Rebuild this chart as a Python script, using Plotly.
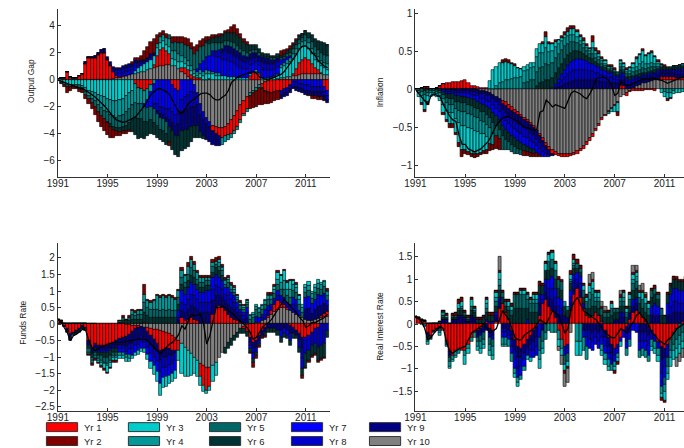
import plotly.graph_objects as go

# ---------------- time axis (quarterly, 1991Q1 .. 2012Q4) ----------------
quarters = [1991 + 0.25 * i for i in range(88)]
year_ticks = [1991, 1995, 1999, 2003, 2007, 2011]

series_names = ["Yr 1", "Yr 2", "Yr 3", "Yr 4", "Yr 5", "Yr 6", "Yr 7", "Yr 8", "Yr 9", "Yr 10"]
series_colors = ["#FF0000", "#800000", "#00CCCC", "#009999", "#006666",
                 "#003333", "#0000FF", "#0000CC", "#000080", "#808080"]

# ---------------- Output Gap ----------------
og_yr1 = [0,0.05,0.1,0.55, 0.15,0.05,0.1,0.25, 0.4,1.2,1.6,1.6, 1.65,1.85,2.0,2.0, 1.5,1.0,0.5,0.2,
          0.05,0.05,0,0, 0,-0.3,-0.6,-0.7, -0.8,-0.7,-0.4,0.2, 0.8,1.2,1.3,1.0, 0.8,-0.4,-0.7,-0.8,
          0.3,0.5,0.5,0.3, 0.2,0.1,0.1,0, 0,0.05,-0.4,-0.5, -0.6,-0.7,-0.7,-0.8, -1.0,-1.1,-1.2,-1.1,
          -0.9,-0.9,0.3,0.5, 0.6,0.4,-0.3,-0.6, -0.8,-0.9,-0.9,-0.8, -0.8,-0.7,-0.6,-0.4, 0.2,0.5,0.9,1.1,
          1.2,1.1,0.8,0.5, 0.3,0.1,-0.5,-0.8]
og_yr2 = [-0.05,-0.05,-0.1,-0.45, -0.25,-0.15,-0.15,-0.25, -0.25,-0.3,-0.4,-0.5, -0.6,-0.7,-0.8,-0.9,
          -0.9,-0.8,-0.6,-0.4, -0.3,-0.2,-0.2,-0.2, 0.1,0.15,0.2,0.3, 0.6,0.75,0.9,1.0, 0.65,0.3,0.25,0.3,
          -0.3,0.45,0.4,0.5, 0.5,0.5,0.5,0.45, 0.5,0.5,0.5,0.5, 0.3,0.25,0.2,0.1, 0.2,0.1,0.1,0.2,
          0.4,0.6,0.5,0.3, 0.2,0.2,-1.0,-1.1, -1.2,-1.3,-1.2,-0.9, -0.8,-0.75,-0.7,-0.7, 0.3,0.3,0.2,0.25,
          0.15,0.1,0.05,0, 0,-0.1,-0.2,-0.2, -0.2,-0.2,-0.1,0]
og_yr3 = [-0.05,-0.15,-0.25,-0.35, -0.35,-0.35,-0.35,-0.4, -0.45,-0.6,-0.8,-0.9, -1.0,-1.1,-1.2,-1.3,
          -1.4,-1.5,-1.6,-1.6, -1.5,-1.4,-1.2,-1.0, -0.8,0.2,0.35,0.45, 0.55,0.6,0.7,0.7, 0.6,0.5,0.5,0.5,
          0.5,0.5,0.5,0.5, 0.4,0.3,0.3,0.3, 0.2,0.2,0.3,0.3, 0.4,0.4,0.4,0.3, 0.3,0.3,0.3,0.2,
          0.2,0.2,0.1,0.1, 0.1,0.1,0.1,0.1, 0.1,0.1,0.1,0.1, 0.1,0.1,0.2,0.3, 0.8,0.9,1.0,1.1,
          1.1,1.1,1.0,0.9, 0.9,0.8,0.7,0.6, 0.6,0.5,0.5,0.4]
og_yr4 = [0.05,0.05,0.05,0.05, 0.05,0.05,0.05,0.05, -0.15,-0.3,-0.4,-0.5, -0.6,-0.8,-0.9,-1.0,
          -1.0,-1.1,-1.1,-1.2, -1.2,-1.2,-1.2,-1.2, -1.1,-1.4,-1.2,-1.1, -1.0,-0.8,-0.5,-0.3, 0.3,0.5,0.5,0.5,
          0.6,0.6,0.6,0.6, 0.5,0.4,0.4,0.4, 0.3,0.3,0.3,0.3, 0.3,0.2,0.2,0.2, 0.2,-0.5,-0.4,-0.4,
          -0.3,-0.2,-0.2,-0.2, -0.2,-0.2,-0.2,-0.2, -0.2,-0.2,-0.1,-0.1, -0.1,0.1,0.1,0.1, 0.2,0.2,0.3,0.35,
          0.4,0.4,0.4,0.4, 0.4,0.4,0.4,0.4, 0.4,0.4,0.4,0.4]
og_yr5 = [0,-0.1,-0.15,-0.2, -0.2,-0.2,-0.2,-0.25, -0.15,-0.2,-0.2,-0.3, -0.4,-0.5,-0.6,-0.6,
          -0.7,-0.7,-0.8,-0.8, -0.9,-0.9,-1.0,-1.0, -1.1,-1.1,-1.1,-1.1, -1.1,-1.0,-1.0,-1.0, -0.9,-0.9,-0.9,-0.9,
          0.3,0.6,0.7,0.8, 0.9,1.0,1.1,1.2, 1.2,1.3,1.2,1.1, 1.0,0.9,0.6,0.6, 0.5,0.4,0.4,0.4,
          0.4,0.4,0.4,0.3, 0.3,0.3,0.2,0.2, 0.2,0.2,0.1,0.1, 0.1,0.1,0.1,0.1, 0.1,0.15,0.2,0.25,
          0.3,0.3,0.3,0.3, 0.4,0.4,0.5,0.5, 0.5,0.6,0.6,0.6]
og_yr6 = [0,0,0,0, 0,0,0,0, 0,0,0,0, 0,0,0,0, -0.1,-0.2,-0.2,-0.2,
          -0.3,-0.3,-0.4,-0.5, -0.9,-1.3,-1.5,-1.4, -1.3,-1.1,-1.0,-0.9, -0.9,-0.8,-0.8,-0.8,
          -1.1,-1.4,-1.4,-1.5, -1.5,-1.4,-1.3,-1.1, -0.9,-0.9,-0.4,-0.2, 0.2,0.3,0.4,0.5, 0.5,0.6,0.6,0.6,
          0.7,0.8,0.8,0.8, 0.7,0.6,0.5,0.4, 0.4,0.3,0.2,0.2, 0.2,0.2,0.2,0.2, 0.2,0.2,0.2,0.25,
          0.3,0.3,0.3,0.3, 0.3,0.4,0.5,0.6, 0.7,0.8,0.85,0.85]
og_yr7 = [0,0,0,0, 0,0,0,0, 0,0,0,0, 0,0,0,0, 0,0,0,0.1,
          0.2,0.25,0.3,0.3, 0.3,0.3,0.2,0.15, -0.2,-0.6,-1.1,-1.5, -1.8,-2.0,-2.1,-2.2,
          -2.2,-2.0,-1.9,-1.7, -1.5,-1.3,-1.1,-0.9, -0.6,0.2,0.5,0.8, 1.0,1.1,1.2,1.2, 1.2,1.2,1.2,1.2,
          1.1,1.0,0.9,0.8, 0.7,0.7,0.7,0.6, 0.6,0.6,0.6,0.6, 0.6,0.5,0.5,0.5, 0.4,0.3,0.2,0.1,
          -0.2,-0.2,-0.3,-0.3, -0.4,-0.4,-0.5,-0.5, -0.5,-0.5,-0.4,-0.4]
og_yr8 = [0,0,0,0, 0,0,0,0, 0,0,0,0, 0,0,0,0, 0,0.1,0.2,0.3,
          0.3,0.3,0.3,0.3, 0.3,0.3,0.2,0.15, 0.2,0.2,0.2,-0.4, -0.5,-0.5,-0.5,-0.6,
          -0.8,-0.8,-0.8,-0.8, -0.9,-1.0,-1.1,-1.1, -1.0,-0.9,-0.8,-0.6, -0.5,-0.4,0.3,0.4, 0.5,0.5,0.6,0.6,
          0.6,0.6,0.6,0.6, 0.5,0.5,0.4,0.4, 0.3,0.3,0.6,0.5, 0.5,0.5,0.4,0.4, -0.3,-0.3,-0.3,-0.3,
          -0.3,-0.3,-0.3,-0.4, -0.4,-0.4,-0.4,-0.4, -0.4,-0.4,-0.3,-0.3]
og_yr9 = [0,0,0,0, 0,0,0,0, 0.05,0.1,0.1,0.1, 0.15,0.15,0.2,0.3, 0.2,0.2,0.2,0.2,
          0.2,0.2,0.2,0.2, 0.2,0.2,0.15,0.15, 0.15,0.15,0.2,0.2, -0.2,-0.3,-0.3,-0.3,
          -0.5,-0.6,-0.8,-0.9, -1.4,-1.4,-1.5,-1.5, -1.4,-1.5,-1.3,-1.2, -1.2,-1.1,-1.0,-0.9, -0.7,0.3,0.4,0.5,
          0.5,0.5,0.5,0.5, 0.5,0.4,0.4,0.4, 0.4,0.4,0.4,0.4, 0.4,0.3,0.3,0.25, -0.3,-0.3,-0.3,-0.3,
          -0.2,-0.3,-0.3,-0.3, -0.3,-0.3,-0.3,-0.3, -0.4,-0.4,-0.3,-0.2]
og_yr10 = [0,0,0,0, 0,0,0,0, 0,0,0,0, 0,0,0,0, 0,0,0.05,0.1,
           0.15,0.2,0.3,0.35, 0.4,0.45,0.5,0.55, 0.6,0.7,0.8,0.9, 0.95,1.0,1.05,1.1,
           1.1,1.05,1.0,0.8, 0.6,0.4,0.2,0.05, -0.4,-1.0,-1.8,-2.4, -2.8,-3.1,-3.4,-3.5, -3.6,-3.6,-3.5,-3.3,
           -3.0,-2.7,-2.3,-1.9, -1.6,-1.3,-1.0,-0.8, -0.6,-0.4,-0.3,-0.2, -0.1,-0.05,0,0.05, 0.1,0.15,0.2,0.2,
           0.25,0.3,0.35,0.4, 0.4,0.4,0.4,0.4, 0.4,0.4,0.35,0.35]
og_total = [0,-0.1,-0.2,-0.3, -0.4,-0.5,-0.55,-0.6, -0.66,-0.8,-0.95,-1.1, -1.28,-1.5,-1.7,-1.95,
            -2.2,-2.5,-2.8,-3.0, -3.1,-3.15,-3.1,-3.0, -2.9,-2.75,-2.5,-2.2, -1.9,-1.5,-1.1,-0.9,
            -0.7,-0.65,-0.75,-0.9, -1.1,-1.5,-2.0,-2.4, -2.5,-2.2,-1.8,-1.6, -1.4,-1.2,-1.05,-1.0,
            -1.0,-1.1,-1.35,-1.5, -1.5,-1.3,-1.15,-0.8, -0.2,0.0,0.2,0.3, 0.4,0.5,0.55,0.6,
            0.5,0.2,0.1,0.05, 0.05,0.1,0.2,0.3, 0.4,0.6,0.9,1.2, 1.55,1.9,2.3,2.5, 2.5,2.3,2.0,1.8,
            1.4,1.2,1.0,0.9]

# ---------------- Inflation ----------------
inf_yr1 = [0,0.01,0.02,0.03, 0.03,0.01,0,0.02, 0.04,0.07,0.08,0.09, 0.1,0.1,0.1,0.11, 0.12,0.08,0.05,0.04,
           0.03,0.02,0.02,0.02, 0.01,0,0,0, -0.04,-0.05,-0.05,-0.05, -0.04,-0.04,-0.03,-0.03,
           -0.02,-0.02,-0.02,-0.02, -0.03,-0.03,-0.04,-0.04, -0.05,-0.04,-0.03,-0.04, -0.03,-0.03,-0.03,-0.03,
           -0.03,-0.03,-0.04,-0.04, -0.04,-0.04,-0.03,-0.03, -0.02,-0.02,-0.02,-0.02, -0.02,-0.02,0.06,0.05,
           -0.03,-0.01,-0.02,-0.02, -0.02,-0.02,-0.01,-0.01, -0.01,-0.02,0.02,0.03, 0.03,0.03,0.03,0.03,
           0.02,0.02,0.02,0.02]
inf_yr2 = [0,0,-0.02,-0.03, -0.03,0,0,0, 0,-0.02,-0.03,-0.05, -0.05,-0.03,-0.05,-0.08, -0.05,-0.04,-0.04,-0.05,
           -0.04,-0.03,-0.04,-0.04, -0.1,-0.07,-0.17,-0.15, 0.03,0.04,0.03,0.02, 0.02,0,0,-0.06,
           -0.05,-0.05,-0.04,-0.05, -0.02,0.02,0.06,0.03, 0.02,0.03,0,0.02, 0.03,0.04,0.04,0.04,
           0.03,0.03,0.03,0.03, 0.02,0.08,0.04,0.04, 0.02,0.01,0.03,0.02, 0.03,-0.05,0.02,0.02,
           0.02,0.02,0.01,0.02, 0.02,0.02,0.01,0.02, 0.02,0.02,0.02,0.02, 0.02,-0.02,-0.02,0,
           0,0,0.01,0.01]
inf_yr3 = [0,-0.05,-0.1,-0.12, -0.08,-0.05,-0.03,-0.04, -0.06,-0.1,-0.12,-0.14, -0.14,-0.18,-0.26,-0.32,
           -0.32,-0.32,-0.32,-0.31, -0.28,-0.25,-0.22,-0.18, 0.1,0.25,0.25,0.27, 0.25,0.24,0.22,0.19,
           0.16,0.13,0.11,0.06, 0.06,0.07,0.06,0.1, 0.12,0.12,0.15,0.1, 0.08,0.06,0.05,0.04,
           0.05,0.06,0.07,0.08, 0.06,0.05,0.04,0.03, 0.03,0.08,0.05,0.04, 0.03,0.03,0.02,-0.04,
           -0.08,-0.12,0.04,0.04, 0.03,0.04,0.06,0.1, 0.12,0.15,0.11,0.12, 0.13,0.08,0.03,-0.05,
           -0.07,-0.08,-0.07,-0.04, -0.04,-0.04,-0.03,-0.03]
inf_yr4 = [0,-0.03,-0.05,-0.08, -0.05,-0.03,-0.03,-0.03, -0.04,-0.08,-0.1,-0.11, -0.11,-0.13,-0.16,-0.18,
           -0.18,-0.18,-0.18,-0.18, -0.18,-0.17,-0.17,-0.16, -0.2,-0.15,0.05,0.08, 0.1,0.12,0.13,0.14,
           0.15,0.15,0.16,0.16, 0.16,0.16,0.16,0.2, 0.2,0.18,0.2,0.17, 0.16,0.15,0.13,0.12,
           0.1,0.1,0.1,0.09, 0.08,0.06,0.05,0.04, 0.04,0.07,0.05,0.04, 0.03,0.03,-0.02,0.03,
           0.02,0.02,0.04,0.03, 0.03,0.04,0.05,0.06, 0.07,0.08,0.06,0.06, 0.06,0.05,0.03,0.02,
           -0.03,-0.05,-0.04,-0.02, 0.01,0.01,0.02,0.02]
inf_yr5 = [0,-0.02,-0.03,-0.05, -0.03,-0.02,-0.02,-0.02, -0.03,-0.06,-0.07,-0.08, -0.08,-0.1,-0.11,-0.12,
           -0.12,-0.12,-0.12,-0.12, -0.12,-0.12,-0.12,-0.12, -0.14,-0.14,-0.13,-0.12, -0.19,-0.14,-0.11,-0.09,
           -0.09,-0.07,-0.07,0.08, 0.1,0.12,0.13,0.18, 0.2,0.2,0.22,0.2, 0.2,0.2,0.19,0.18,
           0.17,0.15,0.14,0.12, 0.11,0.09,0.08,0.06, 0.05,0.07,0.05,0.04, 0.04,0.03,0.03,0.03,
           0.02,0.02,0.04,0.03, 0.03,0.04,0.05,0.05, 0.06,0.06,0.05,0.05, 0.05,0.04,0.03,0.02,
           0.02,0.02,0.02,0.02, 0.02,0.02,0.02,0.02]
inf_yr6 = [0,0,0,-0.02, -0.01,0,0,-0.01, -0.02,-0.04,-0.05,-0.06, -0.06,-0.07,-0.08,-0.08,
           -0.08,-0.09,-0.09,-0.1, -0.1,-0.1,-0.1,-0.11, -0.12,-0.13,-0.13,-0.13, -0.13,-0.13,-0.12,-0.12,
           -0.11,-0.1,-0.09,-0.08, -0.07,-0.05,-0.04,0.05, 0.08,0.1,0.12,0.12, 0.13,0.14,0.14,0.14,
           0.14,0.13,0.12,0.11, 0.1,0.09,0.08,0.07, 0.06,0.06,0.05,0.05, 0.04,0.04,0.03,0.03,
           0.03,0.02,0.04,0.03, 0.03,0.03,0.03,0.03, 0.03,0.03,0.03,0.03, 0.03,0.03,0.03,0.02,
           0.02,0.02,0.02,0.02, 0.02,0.02,0.02,0.02]
inf_yr7 = [0,0,0,0, 0,0,0,0, 0,-0.02,-0.03,-0.03, -0.03,-0.04,-0.04,-0.05, -0.05,-0.05,-0.06,-0.06,
           -0.07,-0.07,-0.08,-0.08, -0.09,-0.1,-0.1,-0.11, -0.11,-0.12,-0.12,-0.12, -0.12,-0.12,-0.12,-0.11,
           -0.11,-0.1,-0.1,-0.09, -0.08,-0.06,-0.03,-0.02, 0.02,0.04,0.06,0.08, 0.1,0.12,0.13,0.14,
           0.14,0.14,0.13,0.12, 0.11,0.1,0.09,0.08, 0.07,0.06,0.05,0.05, 0.04,0.04,0.03,0.03,
           0.03,0.03,0.03,0.02, 0.02,0.02,0.02,0.02, 0.02,0.02,0.02,0.02, 0.02,0.02,0.02,0.02,
           0.02,0.03,0.03,0.03]
inf_yr8 = [0,0,0,0, 0,0,0,0, 0,-0.01,-0.02,-0.02, -0.02,-0.03,-0.03,-0.03, -0.03,-0.04,-0.04,-0.05,
           -0.05,-0.06,-0.06,-0.07, -0.07,-0.08,-0.08,-0.09, -0.1,-0.1,-0.1,-0.11, -0.11,-0.11,-0.11,-0.11,
           -0.11,-0.11,-0.1,-0.09, -0.08,-0.07,-0.05,-0.03, -0.01,0.02,0.05,0.07, 0.09,0.11,0.13,0.14,
           0.14,0.14,0.14,0.13, 0.12,0.12,0.11,0.1, 0.09,0.08,0.07,0.07, 0.06,0.05,0.05,0.05,
           0.05,0.04,0.04,0.04, 0.04,0.04,0.03,0.03, 0.03,0.03,0.03,0.03, 0.03,0.03,0.03,0.04,
           0.04,0.04,0.04,0.04]
inf_yr9 = [0,0,0,0, 0,0,0,0, 0,0,-0.01,-0.01, -0.01,-0.02,-0.02,-0.02, -0.02,-0.02,-0.03,-0.03,
           -0.03,-0.04,-0.04,-0.05, -0.05,-0.06,-0.07,-0.08, -0.08,-0.09,-0.1,-0.1, -0.1,-0.11,-0.11,-0.11,
           -0.11,-0.11,-0.1,-0.1, -0.09,-0.08,-0.06,-0.04, -0.02,0.01,0.03,0.05, 0.07,0.09,0.1,0.11,
           0.12,0.12,0.12,0.12, 0.12,0.12,0.11,0.11, 0.1,0.1,0.09,0.09, 0.08,0.08,0.07,0.07,
           0.06,0.06,0.06,0.06, 0.05,0.05,0.05,0.05, 0.05,0.05,0.05,0.05, 0.05,0.05,0.05,0.05,
           0.05,0.05,0.05,0.05]
inf_yr10 = [0,0,0,0, 0,0,0,0, 0,0,0,0, 0,0,0,0, 0,0,0,0,
            -0.01,-0.02,-0.02,-0.03, -0.04,-0.07,-0.1,-0.12, -0.15,-0.17,-0.2,-0.23, -0.27,-0.3,-0.33,-0.37,
            -0.4,-0.44,-0.48,-0.53, -0.58,-0.64,-0.7,-0.75, -0.79,-0.82,-0.84,-0.85, -0.85,-0.85,-0.84,-0.83,
            -0.81,-0.78,-0.74,-0.69, -0.64,-0.58,-0.52,-0.45, -0.38,-0.33,-0.28,-0.24, -0.2,-0.16,-0.1,-0.07,
            -0.05,-0.02,0.02,0.04, 0.06,0.08,0.09,0.1, 0.11,0.12,0.12,0.13, 0.13,0.13,0.13,0.13,
            0.13,0.13,0.13,0.13]
inf_total = [0,-0.05,-0.1,-0.15, -0.2,-0.08,-0.06,-0.08, -0.1,-0.2,-0.28,-0.35, -0.4,-0.42,-0.6,-0.72,
             -0.72,-0.78,-0.8,-0.82, -0.8,-0.78,-0.74,-0.7, -0.64,-0.55,-0.47,-0.42, -0.38,-0.36,-0.36,-0.38,
             -0.4,-0.42,-0.46,-0.5, -0.5,-0.52,-0.54,-0.52, -0.3,-0.28,-0.14,-0.18, -0.23,-0.2,-0.22,-0.24,
             -0.25,-0.15,-0.05,-0.02, -0.04,-0.06,-0.1,-0.12, -0.06,0.02,0.14,0.15, 0.16,0.15,0.12,0.05,
             -0.08,-0.05,0.1,0.08, 0.05,0.06,0.08,0.1, 0.12,0.14,0.14,0.13, 0.14,0.14,0.13,0.12,
             0.1,0.08,0.1,0.12, 0.14,0.15,0.16,0.16]

# ---------------- Funds Rate ----------------
fr_yr1 = [0.1,0.05,-0.05,-0.15, -0.3,-0.25,-0.2,-0.15, -0.05,-0.1,-0.5,-0.75, -0.6,-0.65,-0.65,-0.65,
          -0.65,-0.6,-0.55,-0.5, -0.45,-0.4,-0.35,-0.3, -0.2,-0.1,-0.05,0, 0.05,-0.1,-0.2,-0.3,
          -0.4,-0.6,-0.55,-0.5, -0.45,-0.45,-0.4,-0.3, 0.2,0.1,0.15,0.2, 0.15,0.1,-0.4,-0.6,
          -0.7,-0.6,0.3,0.5, 0.55,0.5,0.4,0.3, 0.2,0.15,0.1,0.05, -0.05,-0.2,-0.4,-0.55,
          -0.5,-0.35,-0.2,-0.1, 0.05,0.1,0.2,0.25, 0.15,0.1,0.05,-0.05, -0.1,-0.2,-0.3,-0.4,
          -0.4,-0.35,-0.25,-0.15, -0.1,0.05,0.1,0.15]
fr_yr2 = [0,0,0,-0.01, -0.02,0,0,0, 0,0,-0.02,-0.05, -0.05,-0.05,-0.05,-0.05, -0.05,-0.05,-0.05,-0.05,
          0,0.05,0,0.05, 0.05,0.05,0.05,0.05, 0.3,0.05,0.05,0.05, 0.05,0.05,0.05,0.05,
          0.05,0.05,0.05,0.05, 0.1,0.05,0.1,0.1, 0.1,0.05,0.05,0.05, 0.05,0.05,0.1,0.1,
          0.1,0.05,0.05,0.05, 0.05,0.05,0.05,0.05, 0.05,0.05,-0.05,-0.15, -0.1,-0.05,-0.05,-0.05,
          0.05,0.05,0.05,0.05, 0.05,0.05,0.05,0.05, 0.05,0.05,0.05,-0.1, -0.05,-0.05,-0.05,-0.05,
          -0.05,-0.05,-0.05,0.05]
fr_yr3 = [0,0,0,0, 0,0,0,0, 0,0,-0.05,-0.05, -0.05,-0.05,-0.1,-0.15, -0.2,-0.15,-0.1,-0.1,
          -0.1,-0.1,-0.1,-0.1, -0.1,-0.1,-0.1,-0.1, -0.1,-0.15,-0.2,-0.25, -0.3,-0.35,-0.3,-0.3,
          -0.25,-0.25,-0.25,-0.3, -0.9,-0.9,-0.8,-0.65, -0.5,-0.5,-0.25,-0.2, -0.1,-0.1,-0.5,-0.4,
          0.1,0.05,0.05,0.05, 0.05,0.05,0.05,0.05, 0.05,0.05,0.05,0.05, 0.05,0.05,0.05,0.05,
          0.05,0.05,0.1,0.2, 0.2,0.3,0.2,0.25, 0.1,0.1,0.1,0.1, 0.1,0.1,0.05,0.1,
          0.1,0.05,0.05,0.05]
fr_yr4 = [0,0,0,0, 0,0,0,0, 0,0,-0.03,-0.05, -0.05,-0.05,-0.05,-0.05, -0.05,-0.05,-0.05,-0.05,
          -0.1,-0.1,-0.1,-0.1, 0.1,0.1,0.1,0.1, 0.25,0.2,0.2,0.25, 0.4,0.4,0.4,0.4,
          0.4,0.4,0.35,0.2, 0.2,0.2,0.25,0.25, 0.2,0.2,0.15,0.15, 0.1,0.1,0.1,0.1,
          0.1,0.1,0.1,0.1, 0.1,0.1,0.05,0.05, 0.05,0.05,0.1,0.1, 0.1,0.1,0.1,0.1,
          0.1,0.1,0.1,0.15, 0.2,0.25,0.2,0.25, 0.2,0.15,0.15,0.15, 0.15,0.15,0.15,0.15,
          0.15,0.15,0.15,0.1]
fr_yr5 = [0.02,0.02,-0.02,-0.02, -0.03,-0.02,-0.02,-0.02, -0.02,-0.02,-0.1,-0.1, -0.1,-0.1,-0.15,-0.15,
          -0.2,-0.15,-0.1,-0.1, 0.05,0.1,0.05,0.1, 0.15,0.1,0.15,0.15, 0.3,0.25,0.25,0.25,
          0.25,0.2,0.25,0.2, 0.25,0.2,0.2,0.2, 0.2,0.15,0.2,0.25, 0.2,0.15,0.15,0.15,
          0.15,0.15,0.2,0.1, 0.15,0.15,0.1,0.15, 0.1,0.1,0.1,0.1, 0.1,0.1,0.15,0.2,
          0.2,0.15,0.15,0.15, 0.2,0.15,0.15,0.2, 0.2,0.25,0.2,0.2, 0.2,0.2,0.2,0.15,
          0.15,0.2,0.15,0.2, 0.2,0.2,0.2,0.15]
fr_yr6 = [0.03,0.03,0,-0.02, -0.05,-0.03,-0.03,-0.03, -0.03,-0.03,-0.1,-0.1, -0.1,-0.1,-0.1,-0.15,
          -0.15,-0.15,-0.1,-0.1, 0.05,0.1,0.1,0.1, 0.15,0.15,0.15,0.15, 0.3,0.25,0.2,0.2,
          0.2,0.2,0.2,0.2, 0.2,0.2,0.2,0.2, 0.2,0.2,0.2,0.2, 0.2,0.15,0.15,0.15,
          0.15,0.15,0.15,0.2, 0.2,0.15,-0.2,-0.2, -0.2,-0.15,-0.15,-0.15, -0.15,-0.15,-0.1,-0.1,
          -0.1,-0.05,-0.05,-0.1, -0.1,-0.1,-0.1,-0.15, -0.15,-0.1,-0.1,-0.15, -0.15,-0.1,-0.15,-0.2,
          -0.4,-0.3,-0.3,-0.3, -0.4,-0.4,-0.4,-0.2]
fr_yr7 = [0,0,0,0, 0,0,0,0, 0,0,0,0, 0,-0.05,-0.05,-0.05, -0.05,-0.05,-0.05,-0.05,
          -0.1,-0.1,-0.1,-0.15, -0.2,-0.2,-0.2,-0.2, -0.2,-0.2,-0.25,-0.25, -0.3,-0.35,-0.3,-0.3,
          -0.3,-0.3,-0.3,0.2, 0.35,0.3,0.35,0.35, 0.35,0.3,0.3,0.3, 0.35,0.35,0.35,0.35,
          0.3,0.25,0.2,0.25, 0.2,0.2,0.15,0.1, 0.1,0.15,-0.1,-0.15, 0.2,0.15,0.1,0.15,
          0.15,0.1,0.1,0.15, -0.2,-0.15,-0.15,-0.2, 0.2,0.2,0.15,-0.3, 0.35,0.35,0.3,0.3,
          0.35,0.3,0.3,0.15]
fr_yr8 = [0,0,0,0, 0,0,0,0, 0,0,-0.05,-0.05, -0.05,-0.05,-0.05,-0.05, -0.05,-0.05,-0.05,-0.05,
          -0.1,-0.1,-0.15,-0.15, -0.15,-0.15,-0.15,-0.15, -0.15,-0.2,-0.25,-0.25, -0.3,-0.35,-0.3,-0.3,
          -0.3,-0.25,-0.2,0.1, 0.25,0.25,0.3,0.35, 0.35,0.3,0.3,0.3, 0.3,0.3,0.35,0.3,
          0.25,0.25,0.2,0.25, 0.25,0.2,0.15,0.1, 0.1,0.15,-0.1,-0.15, -0.15,-0.1,0.1,0.15,
          0.15,0.1,0.1,0.15, 0.2,0.2,0.15,0.2, 0.25,0.25,-0.2,-0.3, -0.5,-0.45,-0.4,-0.45,
          -0.6,-0.65,-0.6,-0.2]
fr_yr9 = [0,0,-0.02,-0.05, -0.1,-0.05,-0.05,-0.05, -0.05,-0.05,-0.1,-0.1, -0.1,-0.1,-0.1,-0.1,
          -0.1,-0.1,-0.1,-0.15, -0.2,-0.25,-0.3,-0.3, -0.35,-0.35,-0.35,-0.3, -0.3,-0.3,-0.3,-0.3,
          -0.25,-0.3,-0.25,-0.25, -0.2,-0.15,-0.1,0.1, 0.2,0.25,0.3,0.35, 0.35,0.35,0.35,0.35,
          0.35,0.35,0.4,0.35, 0.3,0.3,0.3,0.3, 0.3,0.3,0.25,0.2, 0.15,0.2,-0.15,-0.2,
          -0.2,-0.15,-0.15,-0.15, -0.15,-0.15,-0.15,-0.2, -0.2,-0.15,-0.2,-0.25, -0.2,-0.15,-0.2,-0.35,
          0.3,0.35,0.2,0.3, 0.35,0.3,0.3,0.2]
fr_yr10 = [0,0,0,0, 0,0,0,0, 0,0,0,0, 0,0,0,0, 0,0,0,0,
           0,0,-0.02,-0.03, -0.04,-0.05,-0.06,-0.08, -0.1,-0.12,-0.14,-0.16, -0.18,-0.2,-0.22,-0.25,
           -0.3,-0.35,-0.4,-0.5, -0.6,-0.7,-0.8,-0.9, -1.0,-1.1,-1.2,-1.25, -1.3,-1.3,-1.25,-1.15,
           -1.0,-0.85,-0.7,-0.55, -0.45,-0.35,-0.25,-0.15, -0.08,-0.03,0,0, 0.03,0.06,0.1,0.15,
           0.2,0.3,0.38,0.45, 0.5,0.5,0.45,0.4, 0.35,0.3,0.25,0.2, 0.15,0.12,0.12,0.15,
           0.18,0.2,0.22,0.22]
fr_total = [0.15,0.05,-0.1,-0.25, -0.5,-0.35,-0.3,-0.22, -0.15,-0.2,-0.5,-0.7, -0.8,-0.75,-0.7,-0.65,
            -0.6,-0.58,-0.55,-0.55, -0.55,-0.55,-0.52,-0.5, -0.5,-0.48,-0.46,-0.45, -0.45,-0.5,-0.6,-0.7,
            -0.8,-0.9,-0.8,-0.7, -0.6,-0.55,-0.45,-0.3, -0.05,-0.15,0.1,0.3, 0.25,0.28,0.3,0.0,
            -0.6,-0.35,0.1,0.5, 0.5,0.55,0.5,0.4, 0.35,0.25,0.15,0.08, 0.0,-0.1,-0.25,-0.45,
            -0.4,-0.25,-0.1,0.0, 0.05,0.15,0.3,0.45, 0.6,0.75,0.65,0.55, 0.45,0.35,0.2,0.1,
            -0.1,-0.05,0.05,0.05, 0.1,0.15,0.2,0.3]

# ---------------- Real Interest Rate ----------------
rr_yr1 = [0.15,0.12,0.08,0.05, -0.2,-0.25,-0.15,-0.1, -0.05,-0.15,-0.4,-0.6, -0.7,-0.6,-0.55,-0.6,
          -0.6,-0.45,-0.3,-0.2, -0.15,-0.1,-0.05,0.05, -0.1,-0.15,0.05,0.35, 0.45,0.25,0.1,-0.15,
          -0.35,-0.5,-0.55,-0.45, -0.35,-0.25,-0.15,-0.05, 0.2,0.45,0.55,0.4, 0.3,0.15,-0.15,-0.35,
          -0.5,-0.45,0.3,0.65, 0.8,0.6,0.35,0.2, 0.15,0.2,0.25,0.2, 0.05,-0.15,-0.3,-0.45,
          -0.55,-0.45,-0.3,-0.15, -0.05,0.1,0.25,0.3, 0.25,0.15,0.05,-0.05, -0.15,-0.25,-0.4,-0.5,
          -0.55,-0.45,-0.35,-0.2, -0.1,0,0.05,0.1]
rr_yr2 = [0,0,0,0, 0,0,0,0, 0,0.02,0.03,0, 0.03,0.05,0.1,0.1, 0.05,0.05,0.05,0.05,
          0.05,0.05,0.05,0.05, 0.05,0.05,0.05,0.05, 0.05,0.05,0.05,0.05, 0.05,0.05,0.05,0.05,
          0.05,0.05,0.05,0.05, 0.1,0.05,0.05,0.05, 0.05,0.05,0.05,0.05, -0.05,-0.05,0.1,0.1,
          0.1,0.05,0.05,0.05, 0.05,0.05,0.05,0.05, 0.05,0.05,0.05,0.05, -0.05,-0.05,0.05,0.05,
          0.05,0.05,0.05,0.05, 0.05,0.05,0.05,0.05, 0.05,0.05,0.05,-0.05, -0.05,0.05,0.05,0.05,
          0.05,0.05,0.05,0.05]
rr_yr3 = [0,0,0,0, -0.05,-0.03,0,0, -0.05,0.03,0.05,-0.05, -0.05,-0.05,0.1,0.1, -0.2,-0.1,0.15,0.05,
          -0.1,-0.1,-0.1,0.1, -0.1,-0.1,0.1,0.15, -0.05,-0.05,0.1,0.1, -0.1,-0.1,0.1,0.1,
          -0.1,-0.1,0.1,0.1, -0.2,-0.1,0.15,0.15, 0.15,0.15,-0.15,-0.15, -0.15,-0.1,0.1,0.1,
          -0.3,-0.3,0.1,0.1, 0.15,0.15,0.1,0.1, -0.1,-0.1,-0.1,0.1, -0.1,-0.1,-0.1,0.1,
          0.1,0.1,0.1,0.1, 0.1,0.15,0.15,0.1, -0.1,-0.1,-0.15,-0.1, -0.2,-0.15,-0.2,-0.2,
          -0.2,-0.2,-0.15,-0.15]
rr_yr4 = [0,0,0,0, -0.05,-0.02,0,0, -0.05,0.05,-0.05,-0.1, -0.1,-0.1,-0.1,0.05, -0.1,-0.1,-0.1,-0.1,
          -0.1,-0.15,-0.1,0.1, -0.15,-0.2,0.1,0.15, -0.15,-0.15,-0.15,-0.2, -0.1,-0.1,-0.1,-0.1,
          0.1,0.1,0.1,0.1, -0.2,-0.15,-0.15,-0.15, -0.2,-0.2,-0.2,-0.2, 0.1,0.1,0.05,0.05,
          -0.4,-0.4,-0.3,-0.3, 0.15,0.15,0.1,0.1, -0.15,-0.15,-0.15,-0.15, -0.1,-0.1,0.1,0.1,
          -0.15,-0.15,0.1,0.1, -0.15,-0.15,-0.15,-0.15, -0.15,-0.15,-0.15,-0.15, -0.15,-0.15,-0.15,-0.15,
          -0.2,-0.2,-0.2,-0.2]
rr_yr5 = [0,0,-0.02,-0.05, -0.05,-0.02,-0.03,-0.03, -0.05,0.05,-0.05,-0.1, 0.05,0.05,0.05,0.05, 0.05,0.05,0.1,0.05,
          -0.1,-0.15,-0.15,0.1, -0.15,-0.15,0.1,0.1, 0.1,0.1,0.1,0.1, 0.3,0.3,0.3,0.3,
          0.2,0.2,0.2,0.2, -0.3,-0.25,-0.2,0.2, 0.2,0.2,0.2,0.2, -0.2,-0.2,0.05,0.05,
          0.1,0.1,0.15,0.15, 0.2,0.25,0.1,0.15, 0.15,0.1,0.1,0.15, 0.1,0.1,0.1,0.1,
          0.1,0.15,0.15,0.15, 0.15,0.2,0.2,0.15, 0.15,0.15,0.1,0.15, -0.15,-0.2,-0.25,-0.25,
          -0.25,-0.25,-0.2,-0.2]
rr_yr6 = [0.02,0.02,0.02,0.02, -0.05,0.02,0.02,0.02, 0.05,0.05,0.05,-0.05, 0.05,0.05,0.1,0.1, 0.05,0.05,0.1,0.1,
          0.1,0.1,0.15,0.15, 0.15,0.15,0.15,0.15, 0.15,0.15,0.2,0.2, 0.35,0.35,0.35,0.35,
          0.25,0.25,0.25,0.25, 0.2,0.2,0.2,0.2, 0.2,0.2,0.2,0.2, 0.2,0.15,0.15,0.15,
          0.1,0.1,0.15,0.15, 0.2,0.2,0.15,0.15, 0.15,0.15,0.15,0.2, 0.15,0.15,0.15,0.15,
          0.15,0.15,0.2,0.2, 0.2,0.2,0.2,0.2, 0.2,0.2,0.15,0.2, 0.2,0.2,0.2,0.2,
          0.2,0.2,0.2,0.2]
rr_yr7 = [0,0,0,0, 0,0,0,0, 0,0,0,0, 0,0,0,0, 0,0,0,0,
          0,0,0,0.05, 0.05,0.05,0.05,0.05, -0.1,-0.1,-0.1,-0.15, -0.2,-0.2,-0.2,-0.15,
          0.1,-0.15,-0.15,-0.2, -0.3,0.1,0.15,0.2, 0.25,0.2,0.2,0.2, -0.1,-0.1,0.15,0.15,
          0.15,0.15,-0.15,-0.2, -0.2,-0.2,-0.15,-0.15, -0.15,-0.15,-0.15,-0.1, -0.15,-0.1,-0.1,-0.15,
          -0.15,-0.15,-0.15,-0.2, -0.2,-0.15,-0.2,-0.25, 0.2,0.25,0.2,-0.3, -0.25,0.25,0.25,0.3,
          0.3,0.3,0.3,0.3]
rr_yr8 = [0,0,0,0, 0,0,0,0, 0,0,0,0, 0,0,0.05,0.05, 0.05,0,0.05,0.05,
          -0.05,-0.05,-0.05,-0.05, -0.1,-0.1,0.05,0.1, -0.1,-0.1,-0.1,-0.15, -0.2,-0.25,-0.2,-0.15,
          -0.15,-0.15,-0.2,-0.2, 0.2,0.1,0.15,0.2, 0.25,0.2,0.2,0.15, -0.1,-0.1,0.15,0.15,
          0.1,0.15,0.1,-0.15, -0.2,-0.2,-0.15,-0.2, -0.15,-0.2,-0.15,-0.15, -0.15,-0.1,0.1,0.1,
          -0.2,-0.2,0.15,0.15, -0.2,-0.2,-0.2,-0.2, -0.2,-0.15,-0.15,-0.3, -0.2,-0.3,0.2,0.25,
          0.25,0.2,0.2,0.2]
rr_yr9 = [0,0,0,0, -0.05,-0.03,-0.02,-0.02, -0.05,0.1,0.1,-0.1, 0.1,0.1,0.15,0.15, 0.1,0.05,0.15,0.1,
          -0.1,-0.1,-0.1,-0.1, -0.1,-0.1,0.1,0.1, -0.1,-0.1,-0.15,-0.2, -0.25,-0.25,-0.2,-0.2,
          -0.2,-0.2,-0.25,-0.25, 0.25,-0.15,0.15,0.2, 0.25,0.25,0.2,0.2, 0.2,0.15,0.15,0.15,
          0.1,0.15,-0.15,-0.15, -0.15,-0.2,-0.15,-0.2, -0.15,-0.15,-0.2,-0.2, 0.1,0.1,0.15,0.15,
          -0.15,0.15,0.15,0.15, -0.2,-0.2,-0.2,-0.2, 0.2,0.2,0.2,-0.3, -0.2,0.2,0.2,0.25,
          0.25,0.25,0.2,0.2]
rr_yr10 = [0,0,0,0, 0,0,0,0, 0,0,0,0, 0,0,0,0, 0,0,0,0,
           0,0,0,0, 0,0,0,0.3, 0,0,0,0, 0,0,0,0,
           0,0,0,0, 0,0,0,0, 0,0,-0.1,-0.2, -0.3,-0.3,-0.2,0,
           0,0,0,0, 0.2,0.15,0,0, 0.1,0.1,0,0, 0,0,0.1,0,
           0,0,0.15,0.1, 0.1,0.15,0.05,0, 0,0,0,0, 0,0,0,0,
           -0.2,-0.2,-0.2,-0.2]
rr_total = [0.15,0.12,0.05,-0.1, -0.35,-0.3,-0.2,-0.12, -0.05,-0.1,-0.4,-0.6, -0.65,-0.6,-0.55,-0.52,
            -0.5,-0.35,-0.2,-0.15, -0.1,-0.05,0.0,-0.1, -0.2,-0.15,-0.1,0.1, 0.3,0.2,0.1,-0.1,
            -0.3,-0.35,-0.35,-0.25, -0.2,-0.15,-0.1,0.0, 0.1,0.05,0.0,0.15, 0.3,0.25,0.2,0.0,
            -0.2,-0.1,0.35,0.5, 0.6,0.45,0.3,0.25, 0.2,0.15,0.1,0.0, -0.1,-0.2,-0.25,-0.3,
            -0.3,-0.2,-0.1,-0.15, -0.2,-0.05,0.05,0.2, 0.25,0.15,0.1,-0.05, -0.2,-0.25,-0.35,-0.4,
            -0.45,-0.35,-0.3,-0.2, -0.1,-0.05,0.0,0.05]

# ---------------- figure ----------------
W, H = 684, 448

def xd(a, b):
    return [a / W, b / W]

def yd(top, bottom):
    return [1 - bottom / H, 1 - top / H]

# stacking order (nearest to zero first) for each panel
panels = [
    dict(ax="1", series=[og_yr1, og_yr2, og_yr3, og_yr4, og_yr5, og_yr6, og_yr7, og_yr8, og_yr9, og_yr10],
         total=og_total, order=[9, 0, 2, 3, 6, 7, 8, 4, 5, 1]),
    dict(ax="2", series=[inf_yr1, inf_yr2, inf_yr3, inf_yr4, inf_yr5, inf_yr6, inf_yr7, inf_yr8, inf_yr9, inf_yr10],
         total=inf_total, order=[9, 0, 8, 7, 6, 5, 4, 3, 2, 1]),
    dict(ax="3", series=[fr_yr1, fr_yr2, fr_yr3, fr_yr4, fr_yr5, fr_yr6, fr_yr7, fr_yr8, fr_yr9, fr_yr10],
         total=fr_total, order=[9, 0, 8, 7, 6, 5, 4, 3, 2, 1]),
    dict(ax="4", series=[rr_yr1, rr_yr2, rr_yr3, rr_yr4, rr_yr5, rr_yr6, rr_yr7, rr_yr8, rr_yr9, rr_yr10],
         total=rr_total, order=[0, 8, 7, 6, 5, 4, 3, 2, 1, 9]),
]

fig = go.Figure()
for p in panels:
    xa = "x" if p["ax"] == "1" else "x" + p["ax"]
    ya = "y" if p["ax"] == "1" else "y" + p["ax"]
    for k in p["order"]:
        fig.add_trace(go.Bar(
            x=quarters, y=p["series"][k], name=series_names[k], width=0.25,
            marker=dict(color=series_colors[k], line=dict(color="black", width=0.6)),
            showlegend=False, xaxis=xa, yaxis=ya, hoverinfo="skip"))
    fig.add_trace(go.Scatter(
        x=quarters, y=p["total"], mode="lines", line=dict(color="black", width=1.3),
        showlegend=False, xaxis=xa, yaxis=ya, hoverinfo="skip"))

tickfont = dict(family="Liberation Sans, Arial, sans-serif", size=10, color="#222222")

def xaxis(dom, rng, anchor):
    return dict(domain=dom, range=rng, tickvals=year_ticks, ticks="inside", ticklen=3,
                tickcolor="#333333", showline=True, linecolor="#333333", linewidth=1,
                showgrid=False, zeroline=False, tickfont=tickfont, anchor=anchor, fixedrange=True,
                ticklabelstandoff=-3)

def yaxis(dom, rng, tv, anchor):
    return dict(domain=dom, range=rng, tickvals=tv, ticks="inside", ticklen=3,
                tickcolor="#333333", showline=True, linecolor="#333333", linewidth=1,
                showgrid=False, zeroline=False, tickfont=tickfont, anchor=anchor, fixedrange=True)

left = xd(47.7, 324)
right = xd(411, 684)
top = yd(8, 177)
bot = yd(243.3, 412.7)

fig.update_layout(
    width=W, height=H, margin=dict(l=0, r=0, t=0, b=0),
    paper_bgcolor="white", plot_bgcolor="white",
    barmode="relative", bargap=0,
    font=dict(family="Liberation Sans, Arial, sans-serif", size=10, color="#222222"),
    xaxis=xaxis(left, [1991, 2012.93], "y"),
    yaxis=yaxis(top, [-7.2, 5.25], [-6, -4, -2, 0, 2, 4], "x"),
    xaxis2=xaxis(right, [1991, 2012.56], "y2"),
    yaxis2=yaxis(top, [-1.146, 1.055], [-1, -0.5, 0, 0.5, 1], "x2"),
    xaxis3=xaxis(left, [1991, 2012.93], "y3"),
    yaxis3=yaxis(bot, [-2.62, 2.46], [-2.5, -2, -1.5, -1, -0.5, 0, 0.5, 1, 1.5, 2], "x3"),
    xaxis4=xaxis(right, [1991, 2012.56], "y4"),
    yaxis4=yaxis(bot, [-1.94, 1.82], [-1.5, -1, -0.5, 0, 0.5, 1, 1.5], "x4"),
)

# y-axis titles
ylabels = [("Output Gap", 21, 81), ("Inflation", 375, 92), ("Funds Rate", 12, 324), ("Real Interest Rate", 375, 327)]
for txt, px, py in ylabels:
    fig.add_annotation(text=txt, x=px / W, y=1 - py / H, xref="paper", yref="paper",
                       showarrow=False, textangle=-90, xanchor="center", yanchor="middle",
                       font=dict(family="Liberation Sans, Arial, sans-serif", size=8.5, color="#222222"))

# legend (two rows, five columns)
col_x = [36, 119.3, 201.7, 285, 364.3]
row_y = [(424.5, 433.5), (438.5, 447.5)]
for k in range(10):
    c, r = k // 2, k % 2
    x0 = col_x[c]
    y0, y1 = row_y[r]
    fig.add_shape(type="rect", xref="paper", yref="paper",
                  x0=x0 / W, x1=(x0 + 31.7) / W, y0=1 - y1 / H, y1=1 - y0 / H,
                  fillcolor=series_colors[k], line=dict(color="#333333", width=1))
    fig.add_annotation(text=series_names[k], x=(x0 + 36) / W, y=1 - (y0 + y1) / 2 / H,
                       xref="paper", yref="paper", showarrow=False, xanchor="left", yanchor="middle",
                       font=dict(family="Liberation Sans, Arial, sans-serif", size=9.5, color="#222222"))

fig.write_html("out.html", config={"displayModeBar": False},
               post_script="document.body.style.margin='0px';document.body.style.overflow='hidden';")
